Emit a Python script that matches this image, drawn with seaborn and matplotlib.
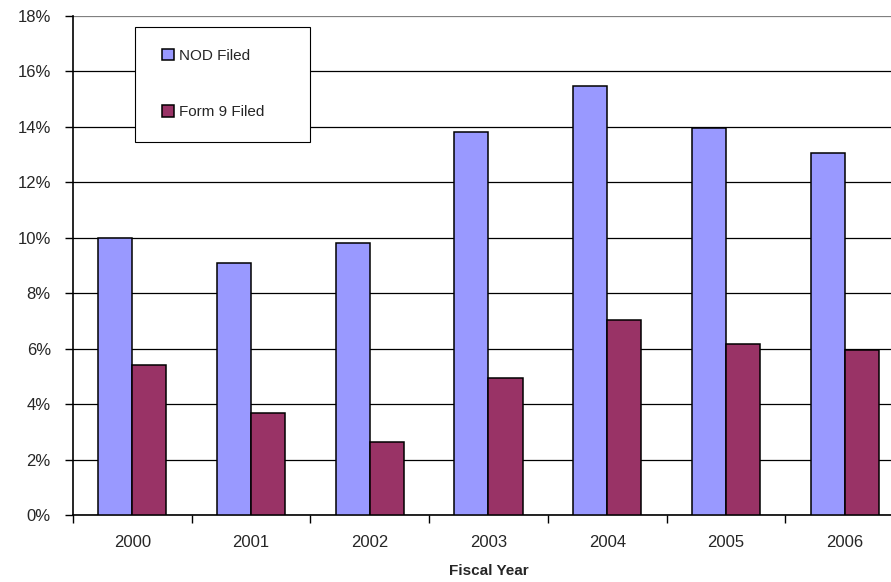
import numpy as np
import pandas as pd
import matplotlib
matplotlib.use("Agg")
import matplotlib.pyplot as plt
import seaborn as sns
from matplotlib.patches import Rectangle
from matplotlib.ticker import FixedLocator, PercentFormatter

# Data (percent)
years = ['2000', '2001', '2002', '2003', '2004', '2005', '2006']
nod_filed = [10.0, 9.09, 9.81, 13.82, 15.47, 13.96, 13.06]
form9_filed = [5.41, 3.68, 2.63, 4.96, 7.05, 6.16, 5.95]
series = ['NOD Filed', 'Form 9 Filed']
colors = ['#9999FF', '#993366']

df = pd.DataFrame({
    'year': years * 2,
    'value': nod_filed + form9_filed,
    'series': [series[0]] * len(years) + [series[1]] * len(years),
})

sns.set_style('white')
plt.rcParams['font.family'] = ['Liberation Sans', 'DejaVu Sans']

fig = plt.figure(figsize=(8.91, 5.82), dpi=100)
ax = fig.add_axes([0.0819, 0.1146, 0.9327, 0.858])

sns.barplot(data=df, x='year', y='value', hue='series', hue_order=series,
            palette=colors, width=0.573, edgecolor='black', linewidth=1.1,
            saturation=1, ax=ax, zorder=3)

# Axes, grid
ax.set_xlim(-0.5, 6.5)
ax.set_ylim(0, 18)
ax.set_yticks(np.arange(0, 19, 2))
ax.yaxis.set_major_formatter(PercentFormatter(decimals=0))
ax.grid(axis='y', color='black', linewidth=0.9, zorder=0)
ax.get_ygridlines()[-1].set_color('#808080')
ax.set_axisbelow(True)
for s in ['top', 'right']:
    ax.spines[s].set_visible(False)
for s in ['left', 'bottom']:
    ax.spines[s].set_color('black')
    ax.spines[s].set_linewidth(1.2)

# x ticks: marks between categories, labels at centers
ax.xaxis.set_major_locator(FixedLocator(np.arange(-0.5, 7.0, 1)))
ax.xaxis.set_minor_locator(FixedLocator(np.arange(0, 7)))
ax.set_xticklabels([], minor=False)
ax.set_xticklabels(years, minor=True)
ax.tick_params(axis='x', which='major', bottom=True, length=6, width=1, color='black')
ax.tick_params(axis='x', which='minor', bottom=True, length=0, pad=14, labelsize=12)
ax.tick_params(axis='y', left=True, length=6, width=1, color='black', pad=10, labelsize=12)

ax.set_xlabel('Fiscal Year', fontsize=11, fontweight='bold', labelpad=10)
ax.set_ylabel('')

# Legend with a fixed box behind it
ax.add_patch(Rectangle((0.0746, 0.748), 0.2106, 0.2306, transform=ax.transAxes,
                       facecolor='white', edgecolor='black', linewidth=0.8,
                       zorder=4))
leg = ax.legend(loc='upper left', bbox_to_anchor=(0.0806, 0.9786), borderaxespad=0,
                frameon=False, fontsize=11,
                handlelength=0.8, handleheight=0.8, handletextpad=0.3,
                labelspacing=2.75, borderpad=1.45, title=None)
leg.set_zorder(5)

fig.savefig('out.png', dpi=100)
